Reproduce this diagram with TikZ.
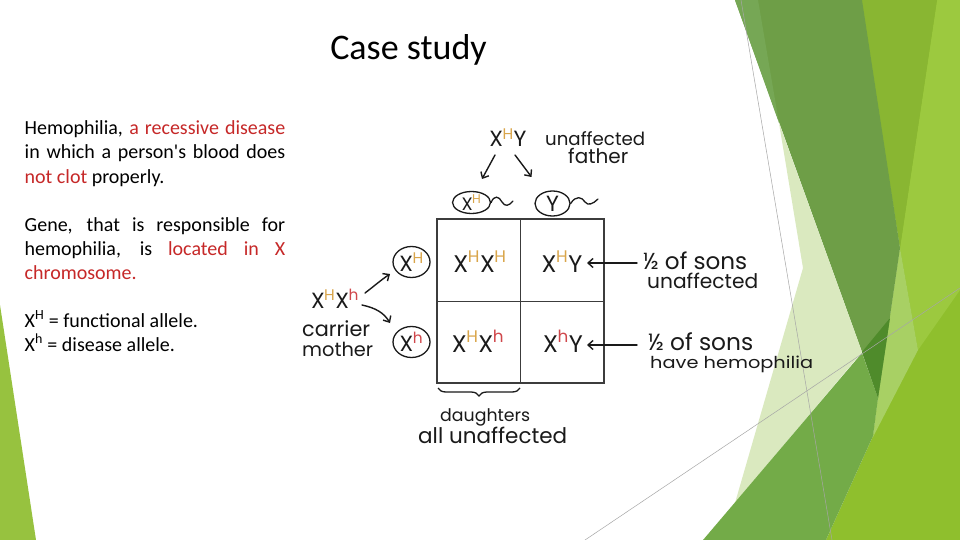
\documentclass[tikz,border=0pt]{standalone}
\usepackage{fontspec}
\setmainfont{Carlito}
\newfontfamily\handfont{Poppins}
\usetikzlibrary{arrows.meta,decorations.pathreplacing,shapes.geometric}
\definecolor{ink}{HTML}{1A1A1A}
\definecolor{goldc}{HTML}{D9A54A}
\definecolor{redc}{HTML}{D0474B}
\definecolor{txtred}{HTML}{C62828}
\definecolor{limeA}{HTML}{9CC93F}
\definecolor{limeB}{HTML}{8FBF2D}
\definecolor{wedgec}{HTML}{89B632}
\definecolor{stripc}{HTML}{A8D064}
\definecolor{bandc}{HTML}{6E9E47}
\definecolor{bandl}{HTML}{76A755}
\definecolor{darktri}{HTML}{4F8B2B}
\definecolor{palec}{HTML}{DAE9BF}
\definecolor{greenc}{HTML}{73AB48}
\definecolor{leftg}{HTML}{97C23F}
\definecolor{thinl}{HTML}{A6A6A6}
\newcommand\supG{\textsuperscript{\kern-0.5pt\textcolor{goldc}{H}}}
\newcommand\supR{\textsuperscript{\kern-0.5pt\textcolor{redc}{h}}}
\newcommand\fitw[2]{\raisebox{0pt}[\height][0pt]{\resizebox{#1}{!}{#2}}}
\newcommand\fitwh[3]{\raisebox{0pt}[\height][0pt]{\resizebox{#1}{#2}{#3}}}
\newcommand\rtx[1]{\textcolor{txtred}{#1}}
\newcommand\sq{\XeTeXglyph\XeTeXcharglyph"27\relax}
\begin{document}
\begin{tikzpicture}[x=1pt,y=-1pt,
  body/.style={anchor=base west,inner sep=0pt,font=\fontsize{20}{24}\selectfont},
  lab/.style={anchor=base west,inner sep=0pt,text=ink,font=\handfont\fontsize{17}{20}\selectfont},
  geno/.style={anchor=base,inner sep=0pt,text=ink,font=\handfont\fontsize{24}{28}\selectfont},
  gam/.style={ellipse,draw=ink,line width=1.3pt,inner sep=0pt},
  gamtxt/.style={inner sep=0pt,text=ink,font=\handfont\fontsize{22}{26}\selectfont},
  harrow/.style={draw=ink,line width=1.4pt,line cap=round,-{Straight Barb[length=5pt,width=9pt,line width=1.4pt]}},
  gridl/.style={draw=ink!85,line width=1.6pt},
  thin/.style={draw=thinl,line width=0.5pt}]
\useasboundingbox (0,0) rectangle (960,540);
\fill[white] (0,0) rectangle (960,540);
% background facets
\fill[limeB] (860,0) -- (960,0) -- (960,540) -- (826,540) -- (873,436) -- (878,398) -- (900,248) -- cycle;
\fill[limeA] (937,0) -- (960,0) -- (960,290) -- (918,350) -- (900,248) -- cycle;
\fill[wedgec] (862,0) -- (937,0) -- (900,248) -- cycle;
\fill[stripc] (900,248) -- (918,350) -- (873,437) -- (878,398) -- cycle;
\fill[bandc] (735,0) -- (862,0) -- (900,248) -- (878,398) -- (862,352) -- cycle;
\fill[bandl] (735,0) -- (758,0) -- (779,123) -- cycle;
\fill[palec] (779,123) -- (803,268) -- (735,503) -- (862,352) -- cycle;
\fill[greenc] (703,540) -- (862,353) -- (878,398) -- (873,436) -- (826,540) -- cycle;
\fill[darktri] (862,352) -- (890,318) -- (878,398) -- cycle;
\fill[leftg] (0,305) -- (36,540) -- (0,540) -- cycle;
\path[thin] (741,0) -- (832,540);
\path[thin] (585,540) -- (960,288);
% title
\node[anchor=base,inner sep=0pt,font=\fontsize{36}{40}\selectfont] (title) at (408.5,60) {Case study};
% left text
\node[body] (t1) at (24.5,135) {\makebox[260.5pt][s]{Hemophilia, \rtx{a recessive disease}}};
\node[body] (t2) at (24.5,159) {\makebox[260.5pt][s]{in which a person\sq s blood does}};
\node[body] (t3) at (24.5,183) {\rtx{not clot} properly.};
\node[body] (t4) at (24.5,231) {\makebox[260.5pt][s]{Gene, that is responsible for}};
\node[body] (t5) at (24.5,255) {\makebox[260.5pt][s]{hemophilia, is \rtx{located in X}}};
\node[body] (t6) at (24.5,279) {\rtx{chromosome.}};
\node[body] (t7) at (24.5,327) {X\textsuperscript{H} = functional allele.};
\node[body] (t8) at (24.5,351) {X\textsuperscript{h} = disease allele.};
% Punnett grid
\draw[gridl] (437,219) rectangle (604,383);
\draw[gridl] (520.5,219) -- (520.5,383);
\draw[gridl] (437,301.5) -- (604,301.5);
\node[geno] (c11) at (480,272) {X\supG X\supG};
\node[geno] (c12) at (562,272) {X\supG Y};
\node[geno] (c21) at (478,352) {X\supG X\supR};
\node[geno] (c22) at (563,352) {X\supR Y};
% father
\node[geno,font=\handfont\fontsize{22}{26}\selectfont] (fa) at (508,147) {X\supG Y};
\node[lab] (fa1) at (545,146) {\fitw{100pt}{unaffected}};
\node[lab] (fa2) at (568,164) {\fitw{60pt}{father}};
\node[gam,minimum width=38pt,minimum height=22pt] (gH) at (471.5,202.5) {};
\node[gamtxt,font=\handfont\fontsize{18}{22}\selectfont] (gHt) at (gH) {X\supG};
\node[gam,minimum width=35pt,minimum height=25pt] (gY) at (552.5,203.5) {};
\node[gamtxt] (gYt) at (gY) {Y};
\coordinate (fl0) at (495,155); \coordinate (fl1) at (482,179);
\coordinate (fr0) at (515,155); \coordinate (fr1) at (531.5,177);
\draw[harrow] (fl0) -- (fl1);
\draw[harrow] (fr0) -- (fr1);
\draw[ink,line width=1.3pt,line cap=round] (gH.east) .. controls (494,195) and (499,196) .. (502,202) .. controls (505,207) and (509,206) .. (513,201);
\draw[ink,line width=1.3pt,line cap=round] (gY.east) .. controls (576,195) and (582,197) .. (585,202) .. controls (588,206) and (593,204) .. (598,199);
% mother
\node[geno,font=\handfont\fontsize{22}{26}\selectfont] (mo) at (335,308) {X\supG X\supR};
\node[lab] (mo1) at (302,336) {\fitw{68pt}{carrier}};
\node[lab] (mo2) at (302,356) {\fitw{71pt}{mother}};
\node[gam,minimum width=37pt,minimum height=31pt] (mH) at (411.5,262) {};
\node[gamtxt] (mHt) at (mH) {X\supG};
\node[gam,minimum width=37pt,minimum height=31pt] (mh) at (411.5,342) {};
\node[gamtxt] (mht) at (mh) {X\supR};
\coordinate (mu0) at (365,293); \coordinate (mu1) at (390,274);
\coordinate (md0) at (362,305); \coordinate (md1) at (390,323);
\draw[harrow] (mu0) .. controls (373,287) and (381,280) .. (mu1);
\draw[harrow] (md0) .. controls (376,308) and (384,313) .. (md1);
% sons
\coordinate (s1) at (637,263); \coordinate (s1e) at (587,263);
\coordinate (s2) at (637,345); \coordinate (s2e) at (587,345);
\draw[harrow] (s1) -- (s1e);
\draw[harrow] (s2) -- (s2e);
\node[lab] (so1) at (643,269) {\fitw{104pt}{½ of sons}};
\node[lab] (so2) at (647,288) {\fitw{111pt}{unaffected}};
\node[lab] (so3) at (648,350) {\fitw{105pt}{½ of sons}};
\node[lab] (so4) at (650,368) {\fitwh{163pt}{12.5pt}{have hemophilia}};
% daughters
\coordinate (b1) at (520,388); \coordinate (b0) at (438,388);
\draw[ink,line width=1.3pt,decorate,decoration={brace,amplitude=8pt}] (b1) -- (b0);
\node[lab] (d1) at (440,421.5) {\fitw{90pt}{daughters}};
\node[lab] (d2) at (418,443) {\fitw{149pt}{all unaffected}};
\end{tikzpicture}
\end{document}
